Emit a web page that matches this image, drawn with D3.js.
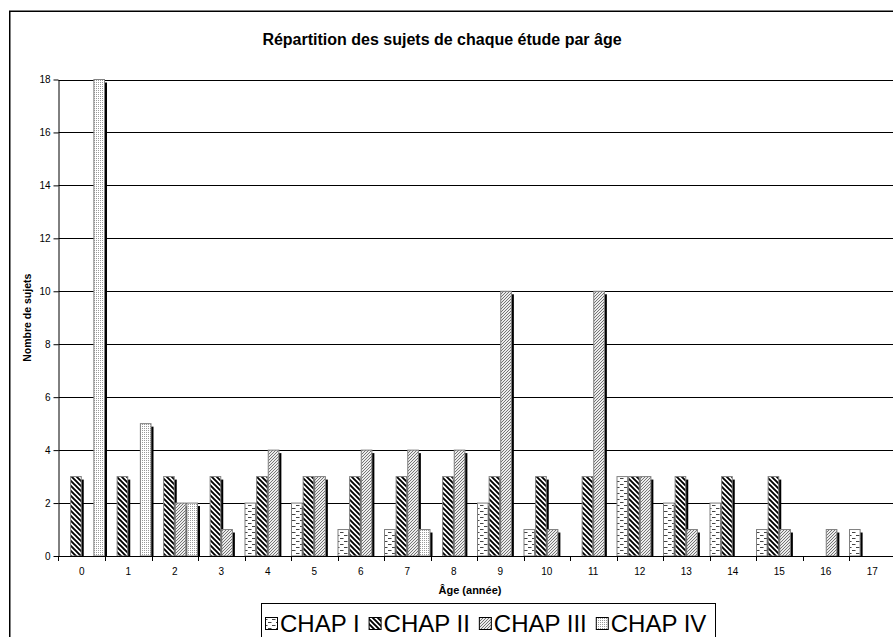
<!DOCTYPE html>
<html><head><meta charset="utf-8">
<script src="https://cdn.jsdelivr.net/npm/d3@7"></script>
<style>
html,body{margin:0;padding:0;background:#fff;}
svg{display:block;font-family:"Liberation Sans",Arial,sans-serif;}
</style></head>
<body>
<svg id="chart" width="893" height="637"></svg>
<script>
const categories = ["0","1","2","3","4","5","6","7","8","9","10","11","12","13","14","15","16","17"];
const seriesNames = ["CHAP I","CHAP II","CHAP III","CHAP IV"];
const chap1 = [0,0,0,0,2,2,1,1,0,2,1,0,3,2,2,1,0,1];
const chap2 = [3,3,3,3,3,3,3,3,3,3,3,3,3,3,3,3,0,0];
const chap3 = [0,0,2,1,4,3,4,4,4,10,1,10,3,1,0,1,1,0];
const chap4 = [18,5,2,0,0,0,0,1,0,0,0,0,0,0,0,0,0,0];
const yTicks = [0,2,4,6,8,10,12,14,16,18];
const titleText = "Répartition des sujets de chaque étude par âge";
const xTitle = "Âge (année)";
const yTitle = "Nombre de sujets";

const seriesValues = [chap1, chap2, chap3, chap4];
const svg = d3.select("#chart");
const defs = svg.append("defs");

// Patterns
const p1 = defs.append("pattern").attr("id","pat0").attr("patternUnits","userSpaceOnUse").attr("width",8).attr("height",6);
p1.append("rect").attr("width",8).attr("height",6).attr("fill","#fff");
p1.append("path").attr("d","M0,1.5H3.5M4,4.5H7.5").attr("stroke","#444").attr("stroke-width",1);

const p2 = defs.append("pattern").attr("id","pat1").attr("patternUnits","userSpaceOnUse").attr("width",5).attr("height",5);
p2.append("rect").attr("width",5).attr("height",5).attr("fill","#fff");
p2.append("path").attr("d","M-1,-1L6,6M-1,4L1,6M4,-1L6,1").attr("stroke","#000").attr("stroke-width",1.9);

const p3 = defs.append("pattern").attr("id","pat2").attr("patternUnits","userSpaceOnUse").attr("width",3).attr("height",3);
p3.append("rect").attr("width",3).attr("height",3).attr("fill","#ececec");
p3.append("path").attr("d","M-1,4L4,-1M-1,1L1,-1M2,4L4,2").attr("stroke","#555").attr("stroke-width",0.8);

const p4 = defs.append("pattern").attr("id","pat3").attr("patternUnits","userSpaceOnUse").attr("width",2).attr("height",2);
p4.append("rect").attr("width",2).attr("height",2).attr("fill","#fff");
p4.append("rect").attr("width",1).attr("height",1).attr("fill","#9a9a9a");

// Frame
svg.append("rect").attr("x",9.75).attr("y",11.25).attr("width",1000).attr("height",1000)
  .attr("fill","none").attr("stroke","#000").attr("stroke-width",1.5);

// Layout
const plotLeft = 58.5, plotRight = 895.5, plotTop = 79.5, plotBottom = 556;
const x = d3.scaleBand().domain(categories).range([plotLeft, plotRight]).padding(0);
const xs = d3.scaleBand().domain(d3.range(seriesNames.length)).range([0, x.bandwidth()]).padding(0);
const y = d3.scaleLinear().domain([0,18]).range([plotBottom, plotTop]);

// Gridlines
svg.append("g").selectAll("line").data(yTicks.filter(d=>d>0)).join("line")
  .attr("x1",plotLeft).attr("x2",plotRight)
  .attr("y1",d=>Math.round(y(d))+0.5).attr("y2",d=>Math.round(y(d))+0.5)
  .attr("stroke","#000").attr("stroke-width",1);

// Bars
const barsG = svg.append("g");
seriesValues.forEach((vals, si) => {
  const data = vals.map((v,i)=>({cat:categories[i], v})).filter(d=>d.v>0);
  const g = barsG.append("g");
  g.selectAll("rect.shadow").data(data).join("rect").attr("class","shadow")
    .attr("x", d=>x(d.cat)+xs(si)+2)
    .attr("y", d=>y(d.v)+3)
    .attr("width", xs.bandwidth())
    .attr("height", d=>Math.max(0, plotBottom - y(d.v) - 3))
    .attr("fill","#000");
  g.selectAll("rect.bar").data(data).join("rect").attr("class","bar")
    .attr("x", d=>x(d.cat)+xs(si)+0.5)
    .attr("y", d=>y(d.v))
    .attr("width", xs.bandwidth()-1)
    .attr("height", d=>plotBottom - y(d.v))
    .attr("fill", `url(#pat${si})`)
    .attr("stroke","#808080").attr("stroke-width",1);
});

// Y axis
const yAxis = d3.axisLeft(y).tickValues(yTicks).tickSize(5).tickPadding(3).tickSizeOuter(0);
const yg = svg.append("g").attr("transform",`translate(${plotLeft},0)`).call(yAxis);
yg.select(".domain").attr("stroke","#000");
yg.selectAll("line").attr("stroke","#000");
yg.selectAll("text").attr("font-size",10).attr("fill","#000").attr("font-family","Liberation Sans, Arial, sans-serif");

// X axis: line, ticks at band boundaries, labels at band centers
svg.append("line").attr("x1",plotLeft).attr("x2",plotRight).attr("y1",plotBottom+0.5).attr("y2",plotBottom+0.5).attr("stroke","#000");
svg.append("g").selectAll("line").data(categories).join("line")
  .attr("x1",d=>Math.round(x(d)+x.bandwidth())+0.5).attr("x2",d=>Math.round(x(d)+x.bandwidth())+0.5)
  .attr("y1",plotBottom).attr("y2",plotBottom+5).attr("stroke","#000");
svg.append("line").attr("x1",plotLeft).attr("x2",plotLeft).attr("y1",plotBottom).attr("y2",plotBottom+5).attr("stroke","#000");
svg.append("g").selectAll("text").data(categories).join("text")
  .attr("x",d=>x(d)+x.bandwidth()/2).attr("y",575)
  .attr("text-anchor","middle").attr("font-size",10).attr("fill","#000").text(d=>d);

// Titles
svg.append("text").attr("x",442).attr("y",45).attr("text-anchor","middle")
  .attr("font-size",16).attr("font-weight","bold").text(titleText);
svg.append("text").attr("x",470).attr("y",594).attr("text-anchor","middle")
  .attr("font-size",11).attr("font-weight","bold").text(xTitle);
svg.append("text").attr("transform",`translate(31,${(plotTop+plotBottom)/2}) rotate(-90)`)
  .attr("text-anchor","middle").attr("font-size",10.5).attr("font-weight","bold").text(yTitle);

// Legend
const leg = svg.append("g");
leg.append("rect").attr("x",261.5).attr("y",603.5).attr("width",454).attr("height",60)
  .attr("fill","#fff").attr("stroke","#000").attr("stroke-width",1);
let lx = 265;
seriesNames.forEach((name, si) => {
  leg.append("rect").attr("x",lx+0.5).attr("y",617.5).attr("width",12).attr("height",12)
    .attr("fill",`url(#pat${si})`).attr("stroke","#000").attr("stroke-width",1);
  const t = leg.append("text").attr("x",lx+15).attr("y",631.5).attr("font-size",24).attr("fill","#000").text(name);
  lx += 15 + t.node().getComputedTextLength() + 9;
});
</script>
</body></html>
